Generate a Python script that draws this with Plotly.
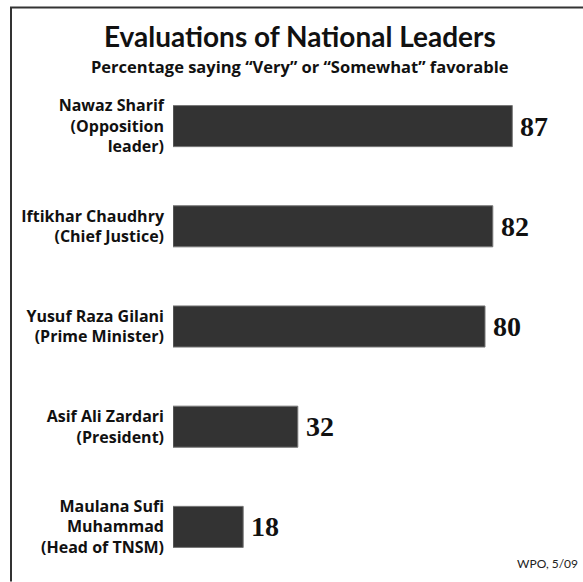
import plotly.graph_objects as go

leaders = [
    "Nawaz Sharif<br>(Opposition<br>leader)",
    "Iftikhar Chaudhry<br>(Chief Justice)",
    "Yusuf Raza Gilani<br>(Prime Minister)",
    "Asif Ali Zardari<br>(President)",
    "Maulana Sufi<br>Muhammad<br>(Head of TNSM)",
]
favorable = [87, 82, 80, 32, 18]

title_text = "Evaluations of National Leaders"
subtitle_text = "Percentage saying \u201cVery\u201d or \u201cSomewhat\u201d favorable"
source_text = "WPO, 5/09"

W, H = 583, 582
L = 173
T = 76.4
B = 4.6
PW = W - L
PH = H - T - B

def py(Y):
    return (H - B - Y) / PH

def px(X):
    return (X - L) / PW

fig = go.Figure()
fig.add_trace(go.Bar(
    y=leaders, x=favorable, orientation="h",
    marker=dict(color="#333333", line=dict(color="#777777", width=1)),
    width=0.41,
))

annotations = []
for name, v in zip(leaders, favorable):
    annotations.append(dict(
        x=v, y=name, xref="x", yref="y", text=str(v), showarrow=False,
        xanchor="left", yanchor="middle", xshift=6,
        font=dict(family="Liberation Serif", size=28, color="#111111", weight="bold"),
    ))

annotations += [
    dict(x=px(300), y=py(36), xref="paper", yref="paper", text=title_text,
         showarrow=False, xanchor="center", yanchor="middle",
         font=dict(family="Lato", size=28, color="#111111", weight="bold")),
    dict(x=px(300), y=py(67), xref="paper", yref="paper", text=subtitle_text,
         showarrow=False, xanchor="center", yanchor="middle",
         font=dict(family="Open Sans", size=16.5, color="#111111", weight="bold")),
    dict(x=px(580), y=py(564), xref="paper", yref="paper", text=source_text,
         showarrow=False, xanchor="right", yanchor="middle",
         font=dict(family="Lato", size=12, color="#222222")),
]

shapes = [
    dict(type="line", xref="paper", yref="paper", x0=px(11), x1=px(11),
         y0=py(582), y1=py(8), line=dict(color="#333333", width=2)),
    dict(type="line", xref="paper", yref="paper", x0=px(10), x1=px(583),
         y0=py(8), y1=py(8), line=dict(color="#333333", width=2)),
]

fig.update_layout(
    width=W, height=H,
    margin=dict(l=L, r=0, t=T, b=B),
    paper_bgcolor="white", plot_bgcolor="white",
    showlegend=False,
    annotations=annotations,
    shapes=shapes,
    xaxis=dict(range=[0, PW / 3.9], visible=False, fixedrange=True),
    yaxis=dict(autorange="reversed", showgrid=False, zeroline=False,
               showline=False, ticks="", ticklabelstandoff=8,
               tickfont=dict(family="Open Sans", size=16, color="#111111", weight="bold"),
               fixedrange=True),
)

fig.write_html(
    "out.html",
    config={"displayModeBar": False},
    post_script="document.body.style.margin='0';document.body.style.overflow='hidden';",
)
